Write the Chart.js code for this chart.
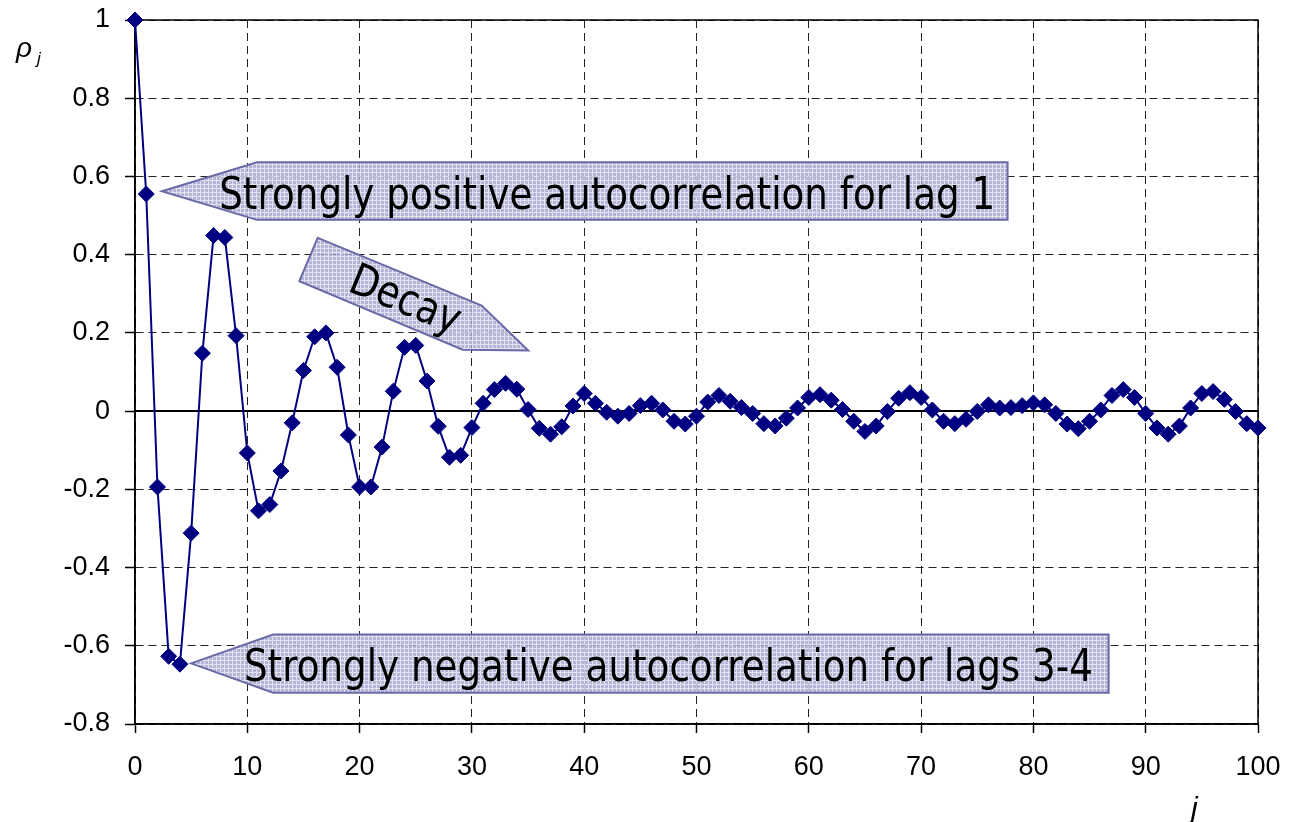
<!DOCTYPE html>
<html>
<head>
<meta charset="utf-8">
<script src="https://cdn.jsdelivr.net/npm/chart.js@4/dist/chart.umd.min.js"></script>
<style>
  html, body { margin: 0; padding: 0; background: #fff; }
  canvas { display: block; }
</style>
</head>
<body>
<canvas id="acfChart" width="1295" height="822"></canvas>
<script>
// DATA
var lags = Array.from({ length: 101 }, function (_, i) { return i; });
var rho = [
    1.000, 0.555, -0.194, -0.627, -0.647, -0.312, 0.148, 0.449, 0.444, 0.193,
    -0.107, -0.255, -0.239, -0.153, -0.030, 0.104, 0.190, 0.200, 0.112, -0.061,
    -0.194, -0.194, -0.092, 0.051, 0.163, 0.168, 0.077, -0.039, -0.118, -0.113,
    -0.042, 0.020, 0.055, 0.071, 0.056, 0.004, -0.044, -0.059, -0.040, 0.013,
    0.045, 0.020, -0.003, -0.013, -0.006, 0.014, 0.020, 0.003, -0.026, -0.033,
    -0.013, 0.023, 0.040, 0.025, 0.009, -0.006, -0.032, -0.038, -0.018, 0.008,
    0.035, 0.042, 0.028, 0.004, -0.026, -0.052, -0.038, -0.001, 0.033, 0.047,
    0.035, 0.003, -0.026, -0.032, -0.021, -0.001, 0.016, 0.008, 0.009, 0.014,
    0.021, 0.016, -0.006, -0.033, -0.045, -0.026, 0.003, 0.040, 0.055, 0.035,
    -0.006, -0.043, -0.059, -0.038, 0.008, 0.045, 0.050, 0.030, -0.001, -0.032,
    -0.043
];
var xTickValues = [0, 10, 20, 30, 40, 50, 60, 70, 80, 90, 100];
var xTickLabels = ['0', '10', '20', '30', '40', '50', '60', '70', '80', '90', '100'];
var yTickValues = [-0.8, -0.6, -0.4, -0.2, 0, 0.2, 0.4, 0.6, 0.8, 1];
var yTickLabels = ['-0.8', '-0.6', '-0.4', '-0.2', '0', '0.2', '0.4', '0.6', '0.8', '1'];

var calloutTexts = [
    'Strongly positive autocorrelation for lag 1',
    'Decay',
    'Strongly negative autocorrelation for lags 3-4'
];

// callout geometry, in data units (x = lag, y = rho)
var arrowBoxes = [
    { text: 0, tip: [2.4, 0.562], left: 10.86, right: 77.7, top: 0.636, bottom: 0.489,
      textX: 7.5, textEnd: 76.6, baseY: 0.517 },
    { text: 2, tip: [4.99, -0.645], left: 12.3, right: 86.7, top: -0.571, bottom: -0.72,
      textX: 9.7, textEnd: 85.3, baseY: -0.691 }
];
var decayShape = {
    text: 1,
    pts: [[16.27, 0.443], [30.87, 0.270], [35.02, 0.155], [29.18, 0.157], [14.63, 0.332]],
    center: [23.6, 0.252],
    width: 116
};

var tickFont = { family: '"Liberation Sans", Arial, sans-serif', size: 27 };

function makePattern(ctx) {
    var c = document.createElement('canvas');
    c.width = 4; c.height = 4;
    var p = c.getContext('2d');
    p.fillStyle = '#a9a9d0';
    p.fillRect(0, 0, 4, 4);
    p.fillStyle = '#dcdcee';
    p.fillRect(0, 0, 4, 1);
    p.fillRect(0, 0, 1, 4);
    return ctx.createPattern(c, 'repeat');
}

function fillShape(ctx, pts) {
    ctx.beginPath();
    ctx.moveTo(pts[0][0], pts[0][1]);
    for (var i = 1; i < pts.length; i++) ctx.lineTo(pts[i][0], pts[i][1]);
    ctx.closePath();
    ctx.save();
    ctx.globalAlpha = 0.85;
    ctx.fillStyle = makePattern(ctx);
    ctx.fill();
    ctx.restore();
    ctx.lineWidth = 2;
    ctx.strokeStyle = '#6a6aa6';
    ctx.stroke();
}

function squeezedText(ctx, text, x, y, targetW) {
    ctx.font = '44px "DejaVu Sans", Verdana, sans-serif';
    var w = ctx.measureText(text).width;
    ctx.save();
    ctx.translate(x, y);
    ctx.scale(targetW / w, 1);
    ctx.fillStyle = '#000';
    ctx.fillText(text, 0, 0);
    ctx.restore();
}

var overlay = {
    id: 'overlay',
    beforeDatasetsDraw: function (chart) {
        var ctx = chart.ctx, a = chart.chartArea;
        var y0 = chart.scales.y.getPixelForValue(0);
        ctx.save();
        ctx.setLineDash([]);
        ctx.strokeStyle = '#000';
        ctx.lineWidth = 2;
        ctx.beginPath();
        ctx.moveTo(a.left, y0); ctx.lineTo(a.right, y0);
        ctx.stroke();
        ctx.lineWidth = 1.5;
        ctx.beginPath();
        ctx.rect(a.left, a.top, a.right - a.left, a.bottom - a.top);
        ctx.stroke();
        ctx.restore();
    },
    afterDatasetsDraw: function (chart) {
        var ctx = chart.ctx, sx = chart.scales.x, sy = chart.scales.y;
        function px(v) { return sx.getPixelForValue(v); }
        function py(v) { return sy.getPixelForValue(v); }
        ctx.save();
        ctx.setLineDash([]);
        arrowBoxes.forEach(function (b) {
            fillShape(ctx, [
                [px(b.tip[0]), py(b.tip[1])],
                [px(b.left), py(b.top)],
                [px(b.right), py(b.top)],
                [px(b.right), py(b.bottom)],
                [px(b.left), py(b.bottom)]
            ]);
            ctx.textAlign = 'left';
            ctx.textBaseline = 'alphabetic';
            squeezedText(ctx, calloutTexts[b.text], px(b.textX), py(b.baseY), px(b.textEnd) - px(b.textX));
        });
        var pts = decayShape.pts.map(function (p) { return [px(p[0]), py(p[1])]; });
        fillShape(ctx, pts);
        var ang = Math.atan2(pts[1][1] - pts[0][1], pts[1][0] - pts[0][0]);
        ctx.save();
        ctx.translate(px(decayShape.center[0]), py(decayShape.center[1]));
        ctx.rotate(ang);
        ctx.textAlign = 'center';
        ctx.textBaseline = 'alphabetic';
        squeezedText(ctx, calloutTexts[decayShape.text], 0, 0, decayShape.width);
        ctx.restore();
        ctx.restore();
    },
    afterDraw: function (chart) {
        var ctx = chart.ctx;
        ctx.save();
        ctx.fillStyle = '#000';
        ctx.textAlign = 'left';
        ctx.textBaseline = 'alphabetic';
        ctx.font = 'italic 28px "Liberation Sans", Arial, sans-serif';
        ctx.fillText('\u03C1', 16, 57);
        ctx.font = 'italic 17px "Liberation Sans", Arial, sans-serif';
        ctx.fillText('j', 37, 64);
        ctx.font = 'italic 30px "Liberation Sans", Arial, sans-serif';
        ctx.fillText('j', 1191, 818);
        ctx.restore();
    }
};

var ctx = document.getElementById('acfChart').getContext('2d');
window.acfChart = new Chart(ctx, {
    type: 'line',
    data: {
        datasets: [{
            data: lags.map(function (l, i) { return { x: l, y: rho[i] }; }),
            borderColor: '#000080',
            backgroundColor: '#000080',
            borderWidth: 2,
            pointStyle: 'rectRot',
            pointRadius: 8,
            pointBorderWidth: 1,
            pointBackgroundColor: '#000080',
            pointBorderColor: '#000080',
            tension: 0,
            clip: false
        }]
    },
    options: {
        responsive: false,
        animation: false,
        devicePixelRatio: 1,
        layout: { padding: { top: 20, right: 37, left: 0, bottom: 0 } },
        plugins: { legend: { display: false }, tooltip: { enabled: false } },
        scales: {
            x: {
                type: 'linear',
                min: 0,
                max: 100,
                afterBuildTicks: function (s) { s.ticks = xTickValues.map(function (v) { return { value: v }; }); },
                afterFit: function (s) { s.height = 98; s.paddingLeft = 0; s.paddingRight = 0; },
                ticks: {
                    font: tickFont, color: '#000', padding: 18, maxRotation: 0, autoSkip: false,
                    callback: function (v, i) { return xTickLabels[i]; }
                },
                grid: { color: '#222', lineWidth: 1, tickLength: 9, tickColor: '#000', tickWidth: 1.5 },
                border: { color: '#000', width: 1.5, dash: [8, 5] }
            },
            y: {
                min: -0.8,
                max: 1,
                afterBuildTicks: function (s) { s.ticks = yTickValues.map(function (v) { return { value: v }; }); },
                afterFit: function (s) { s.width = 135; s.paddingTop = 0; s.paddingBottom = 0; },
                ticks: {
                    font: tickFont, color: '#000', padding: 15, autoSkip: false,
                    callback: function (v, i) { return yTickLabels[i]; }
                },
                grid: { color: '#222', lineWidth: 1, tickLength: 10, tickColor: '#000', tickWidth: 1.5 },
                border: { color: '#000', width: 1.5, dash: [8, 5] }
            }
        }
    },
    plugins: [overlay]
});
</script>
</body>
</html>
